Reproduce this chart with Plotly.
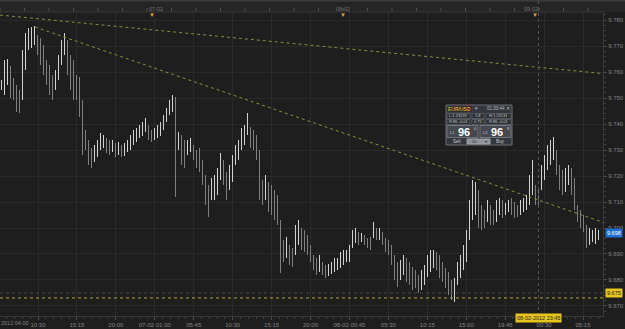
import plotly.graph_objects as go

# ---------------- data ----------------
high = [9.7569, 9.7646, 9.7650, 9.7623, 9.7577, 9.7550, 9.7531, 9.7685, 9.7750, 9.7769,
        9.7773, 9.7777, 9.7742, 9.7731, 9.7704, 9.7646, 9.7627, 9.7588, 9.7608, 9.7665,
        9.7723, 9.7750, 9.7723, 9.7665, 9.7646, 9.7588, 9.7581, 9.7492, 9.7377, 9.7338,
        9.7308, 9.7319, 9.7338, 9.7365, 9.7358, 9.7346, 9.7338, 9.7338, 9.7327, 9.7331,
        9.7319, 9.7327, 9.7338, 9.7358, 9.7377, 9.7385, 9.7396, 9.7408, 9.7423, 9.7396,
        9.7377, 9.7385, 9.7396, 9.7408, 9.7435, 9.7462, 9.7492, 9.7512, 9.7504, 9.7369,
        9.7358, 9.7338, 9.7338, 9.7346, 9.7319, 9.7300, 9.7308, 9.7262, 9.7204, 9.7165,
        9.7192, 9.7204, 9.7231, 9.7288, 9.7262, 9.7215, 9.7242, 9.7281, 9.7319, 9.7338,
        9.7385, 9.7396, 9.7442, 9.7388, 9.7377, 9.7358, 9.7300, 9.7185, 9.7204, 9.7177,
        9.7165, 9.7146, 9.7127, 9.7031, 9.6954, 9.6965, 9.6935, 9.6923, 9.7012, 9.7031,
        9.7000, 9.6992, 9.6973, 9.6935, 9.6896, 9.6885, 9.6896, 9.6869, 9.6858, 9.6862,
        9.6869, 9.6885, 9.6885, 9.6908, 9.6915, 9.6915, 9.6935, 9.6992, 9.7000, 9.6985,
        9.6981, 9.6973, 9.6962, 9.6965, 9.7023, 9.7000, 9.7000, 9.6985, 9.6962, 9.6954,
        9.6935, 9.6896, 9.6869, 9.6877, 9.6896, 9.6885, 9.6869, 9.6850, 9.6838, 9.6819,
        9.6838, 9.6858, 9.6896, 9.6915, 9.6915, 9.6908, 9.6896, 9.6869, 9.6846, 9.6831,
        9.6800, 9.6808, 9.6869, 9.6896, 9.6935, 9.6992, 9.7108, 9.7185, 9.7177, 9.7146,
        9.7088, 9.7069, 9.7108, 9.7088, 9.7069, 9.7108, 9.7115, 9.7108, 9.7096, 9.7108,
        9.7115, 9.7100, 9.7088, 9.7108, 9.7115, 9.7127, 9.7204, 9.7262, 9.7165, 9.7154,
        9.7242, 9.7281, 9.7319, 9.7338, 9.7350, 9.7300, 9.7242, 9.7223, 9.7231, 9.7242,
        9.7231, 9.7192, 9.7088, 9.7069, 9.7050, 9.7012, 9.7000, 9.6992, 9.7000, 9.6992]
low = [9.7531, 9.7512, 9.7550, 9.7500, 9.7492, 9.7446, 9.7442, 9.7492, 9.7608, 9.7685,
       9.7692, 9.7704, 9.7665, 9.7627, 9.7588, 9.7550, 9.7512, 9.7492, 9.7531, 9.7569,
       9.7627, 9.7665, 9.7588, 9.7531, 9.7492, 9.7492, 9.7427, 9.7281, 9.7300, 9.7242,
       9.7231, 9.7254, 9.7273, 9.7300, 9.7308, 9.7288, 9.7281, 9.7292, 9.7273, 9.7281,
       9.7273, 9.7277, 9.7292, 9.7300, 9.7319, 9.7331, 9.7346, 9.7354, 9.7369, 9.7338,
       9.7331, 9.7338, 9.7346, 9.7354, 9.7377, 9.7408, 9.7435, 9.7446, 9.7119, 9.7300,
       9.7242, 9.7231, 9.7281, 9.7292, 9.7262, 9.7231, 9.7215, 9.7165, 9.7088, 9.7042,
       9.7108, 9.7108, 9.7127, 9.7185, 9.7165, 9.7108, 9.7146, 9.7177, 9.7242, 9.7262,
       9.7300, 9.7319, 9.7358, 9.7308, 9.7300, 9.7262, 9.7108, 9.7088, 9.7108, 9.7062,
       9.7050, 9.7031, 9.7012, 9.6827, 9.6869, 9.6885, 9.6858, 9.6850, 9.6896, 9.6935,
       9.6915, 9.6908, 9.6896, 9.6869, 9.6838, 9.6819, 9.6831, 9.6819, 9.6808, 9.6815,
       9.6823, 9.6831, 9.6838, 9.6846, 9.6858, 9.6869, 9.6869, 9.6923, 9.6942, 9.6935,
       9.6946, 9.6935, 9.6923, 9.6915, 9.6962, 9.6954, 9.6954, 9.6935, 9.6908, 9.6896,
       9.6858, 9.6800, 9.6773, 9.6800, 9.6819, 9.6792, 9.6781, 9.6762, 9.6769, 9.6750,
       9.6762, 9.6781, 9.6812, 9.6831, 9.6846, 9.6838, 9.6808, 9.6792, 9.6769, 9.6742,
       9.6723, 9.6715, 9.6781, 9.6808, 9.6838, 9.6869, 9.6954, 9.7031, 9.7050, 9.7000,
       9.6992, 9.7000, 9.7023, 9.7012, 9.7012, 9.7023, 9.7050, 9.7038, 9.7050, 9.7062,
       9.7050, 9.7038, 9.7042, 9.7050, 9.7062, 9.7069, 9.7088, 9.7127, 9.7088, 9.7088,
       9.7146, 9.7185, 9.7223, 9.7242, 9.7262, 9.7204, 9.7146, 9.7127, 9.7138, 9.7165,
       9.7127, 9.7069, 9.7023, 9.7000, 9.6985, 9.6923, 9.6935, 9.6946, 9.6938, 9.6954]

y_ticks = [9.670, 9.680, 9.690, 9.700, 9.710, 9.720, 9.730, 9.740, 9.750, 9.760, 9.770, 9.780]
x_tick_text = ["10:30", "15:15", "20:00", "07-02 01:00", "05:45", "10:30", "15:15", "20:00",
               "08-02 00:45", "05:30", "10:15", "15:00", "19:45", "00:30", "05:15"]
first_label = "2012 04:00"
top_markers = ["07-02", "08-02", "09-02"]

trend_top_x = [-0.5, 200.5]
trend_top_y = [9.7819, 9.7594]
trend_down_x = [11.2, 200.5]
trend_down_y = [9.7773, 9.7022]
support_level = 9.6731
cross_price = 9.675
cross_bar = 179
cross_time = "08-02-2012 23:45"
last_price = 9.698

# ---------------- layout geometry ----------------
W, H = 625, 329
ML, MR, MT, MB = 0, 22, 12, 13
PW, PH = W - ML - MR, H - MT - MB
N = len(high)
X0, X1 = -0.5, N + 0.5
Y0, Y1 = 9.66615, 9.78308
BG = "#1e1e1e"
GRID = "#2a2a2a"
TXT = "#858585"
FONT = "Liberation Sans"


def px(xp):
    return (xp - ML) / PW


def py(yp):
    return (MT + PH - yp) / PH


def pix_to_idx(xp):
    return X0 + (xp - ML) / PW * (X1 - X0)


idx = list(range(N))
mids = [(h + l) / 2 for h, l in zip(high, low)]
colors = ["#d2d2d2" if i == 0 or mids[i] >= mids[i - 1] else "#808080" for i in range(N)]

fig = go.Figure()
fig.add_trace(go.Bar(x=idx, y=[h - l for h, l in zip(high, low)], base=low, width=0.33,
                     marker=dict(color=colors, line=dict(width=0)), hoverinfo="skip"))

dotcol = "#8f8c3c"
fig.add_trace(go.Scatter(x=trend_top_x, y=trend_top_y, mode="lines",
                         line=dict(color=dotcol, width=1, dash="dot"), hoverinfo="skip"))
fig.add_trace(go.Scatter(x=trend_down_x, y=trend_down_y, mode="lines",
                         line=dict(color=dotcol, width=1, dash="dot"), hoverinfo="skip"))
fig.add_trace(go.Scatter(x=[X0, X1], y=[support_level, support_level], mode="lines",
                         line=dict(color="#b5a634", width=1, dash="dot"), hoverinfo="skip"))
fig.add_trace(go.Scatter(x=[X0, X1], y=[cross_price, cross_price], mode="lines",
                         line=dict(color="#484848", width=1, dash="dot"), hoverinfo="skip"))

# x tick positions (every 4h45m, ~38.93 px)
tick_px = [38 + 38.93 * k for k in range(len(x_tick_text))]
tickvals = [pix_to_idx(p) for p in tick_px]
step = tickvals[1] - tickvals[0]

shapes = []
# top header band
shapes.append(dict(type="rect", xref="paper", yref="paper", x0=px(0), x1=px(W), y0=py(12), y1=py(0),
                   fillcolor="#252525", line=dict(width=0), layer="below"))
shapes.append(dict(type="line", xref="paper", yref="paper", x0=px(0), x1=px(W), y0=py(0.5), y1=py(0.5),
                   line=dict(color="#3c3c3c", width=2)))
shapes.append(dict(type="line", xref="paper", yref="paper", x0=px(0), x1=px(603), y0=py(12), y1=py(12),
                   line=dict(color="#383838", width=1)))
k = 0
while 24.5 * k < 603:
    xp = 24.5 * k
    shapes.append(dict(type="line", xref="paper", yref="paper", x0=px(xp), x1=px(xp), y0=py(8), y1=py(11),
                       line=dict(color="#505050", width=1)))
    k += 1
# crosshair vertical
shapes.append(dict(type="line", xref="x", yref="paper", x0=cross_bar, x1=cross_bar, y0=0, y1=py(1),
                   line=dict(color="#555555", width=1, dash="dot")))

annotations = []
annotations.append(dict(xref="paper", yref="paper", x=px(-1), y=py(323), text=first_label,
                        showarrow=False, xanchor="left", yanchor="middle",
                        font=dict(size=5.5, color=TXT, family=FONT)))
for lab, xp in zip(top_markers, [147, 343, 540]):
    annotations.append(dict(xref="paper", yref="paper", x=px(xp), y=py(4.5), text=lab, showarrow=False,
                            font=dict(size=5.5, color="#707070", family=FONT)))
    annotations.append(dict(xref="paper", yref="paper", x=px(xp), y=py(10), text="▼", showarrow=False,
                            font=dict(size=6, color="#d9a728", family=FONT)))
annotations.append(dict(xref="x", yref="paper", x=cross_bar, y=py(323), text=cross_time, showarrow=False,
                        bgcolor="#e8c51a", borderpad=1, font=dict(size=5.5, color="#222222", family=FONT)))
annotations.append(dict(xref="paper", yref="y", x=px(605), y=last_price, text=f"{last_price:.3f}",
                        showarrow=False, xanchor="left", bgcolor="#1f6fd1", borderpad=1,
                        font=dict(size=5.5, color="#ffffff", family=FONT)))
annotations.append(dict(xref="paper", yref="y", x=px(605), y=cross_price, text=f"{cross_price:.3f}",
                        showarrow=False, xanchor="left", bgcolor="#e8c51a", borderpad=1,
                        font=dict(size=5.5, color="#222222", family=FONT)))

# ---- trading widget ----
def box(x0, y0, x1, y1, fill, line="#5a5e66"):
    shapes.append(dict(type="rect", xref="paper", yref="paper", x0=px(x0), x1=px(x1), y0=py(y1), y1=py(y0),
                       fillcolor=fill, line=dict(color=line, width=1)))


def txt(xp, yp, t, size=4.5, color="#cfcfcf", anchor="center", bold=False):
    annotations.append(dict(xref="paper", yref="paper", x=px(xp), y=py(yp),
                            text=f"<b>{t}</b>" if bold else t, showarrow=False, xanchor=anchor,
                            yanchor="middle", font=dict(size=size, color=color, family=FONT)))


box(446, 105, 512, 145, "#34373c", "#6a6e75")
box(447, 106, 472, 112, "#151515", "#4a4a4a")
txt(459.5, 109, "EUR/USD", 5, "#e0b64a", bold=True)
txt(476, 109, "▾", 4.5, "#bbbbbb")
txt(496, 109, "01:30:44", 4.5, "#bbbbbb")
txt(508, 109, "✕", 4.5, "#bbbbbb")
for (a, b, t) in [(447, 470, "L:1.23139"), (472, 484, "1.8"), (486, 511, "H:1.23131")]:
    box(a, 113.5, b, 118.5, "#2a2d31", "#53575e")
    txt((a + b) / 2, 116, t, 4)
for (a, b, t) in [(447, 470, "R:85 -0.01"), (472, 484, "0.75"), (486, 511, "R:85 -0.01")]:
    box(a, 119.5, b, 124.5, "#2a2d31", "#53575e")
    txt((a + b) / 2, 122, t, 4)
box(447, 125.5, 478, 137.5, "#45484e", "#70747b")
box(480, 125.5, 511, 137.5, "#45484e", "#70747b")
txt(452, 132, "L1", 4, "#cccccc")
txt(464, 131.5, "96", 11, "#ffffff", bold=True)
txt(475, 128.5, "0", 4, "#cccccc")
txt(485, 132, "L2", 4, "#cccccc")
txt(497, 131.5, "96", 11, "#ffffff", bold=True)
txt(508, 128.5, "8", 4, "#cccccc")
txt(457, 141.5, "Sell", 4.5, "#cccccc")
box(467, 139, 490, 144, "#8f9399", "#a0a4aa")
txt(474, 141.5, "10", 4, "#222222")
txt(486, 141.5, "▾", 4, "#222222")
txt(500, 141.5, "Buy", 4.5, "#cccccc")

fig.update_layout(
    width=W, height=H, margin=dict(l=ML, r=MR, t=MT, b=MB),
    paper_bgcolor=BG, plot_bgcolor=BG, showlegend=False, bargap=0,
    shapes=shapes, annotations=annotations,
    xaxis=dict(range=[X0, X1], tickvals=tickvals, ticktext=x_tick_text, showgrid=True, gridcolor=GRID,
               gridwidth=1, zeroline=False, showline=True, linecolor="#3a3a3a", ticks="outside",
               ticklen=3, tickcolor="#4a4a4a", tickfont=dict(size=6, color=TXT, family=FONT),
               minor=dict(dtick=step / 5, tick0=tickvals[0], ticks="outside", ticklen=2,
                          tickcolor="#3e3e3e", showgrid=False)),
    yaxis=dict(range=[Y0, Y1], side="right", tickvals=y_ticks, ticktext=[f"{v:.3f}" for v in y_ticks],
               showgrid=True, gridcolor=GRID, zeroline=False, showline=True, linecolor="#3a3a3a",
               ticks="outside", ticklen=3, tickcolor="#4a4a4a",
               tickfont=dict(size=6, color=TXT, family=FONT),
               minor=dict(dtick=0.002, tick0=9.670, ticks="outside", ticklen=2, tickcolor="#3e3e3e",
                          showgrid=False)),
)

fig.write_html("out.html")
